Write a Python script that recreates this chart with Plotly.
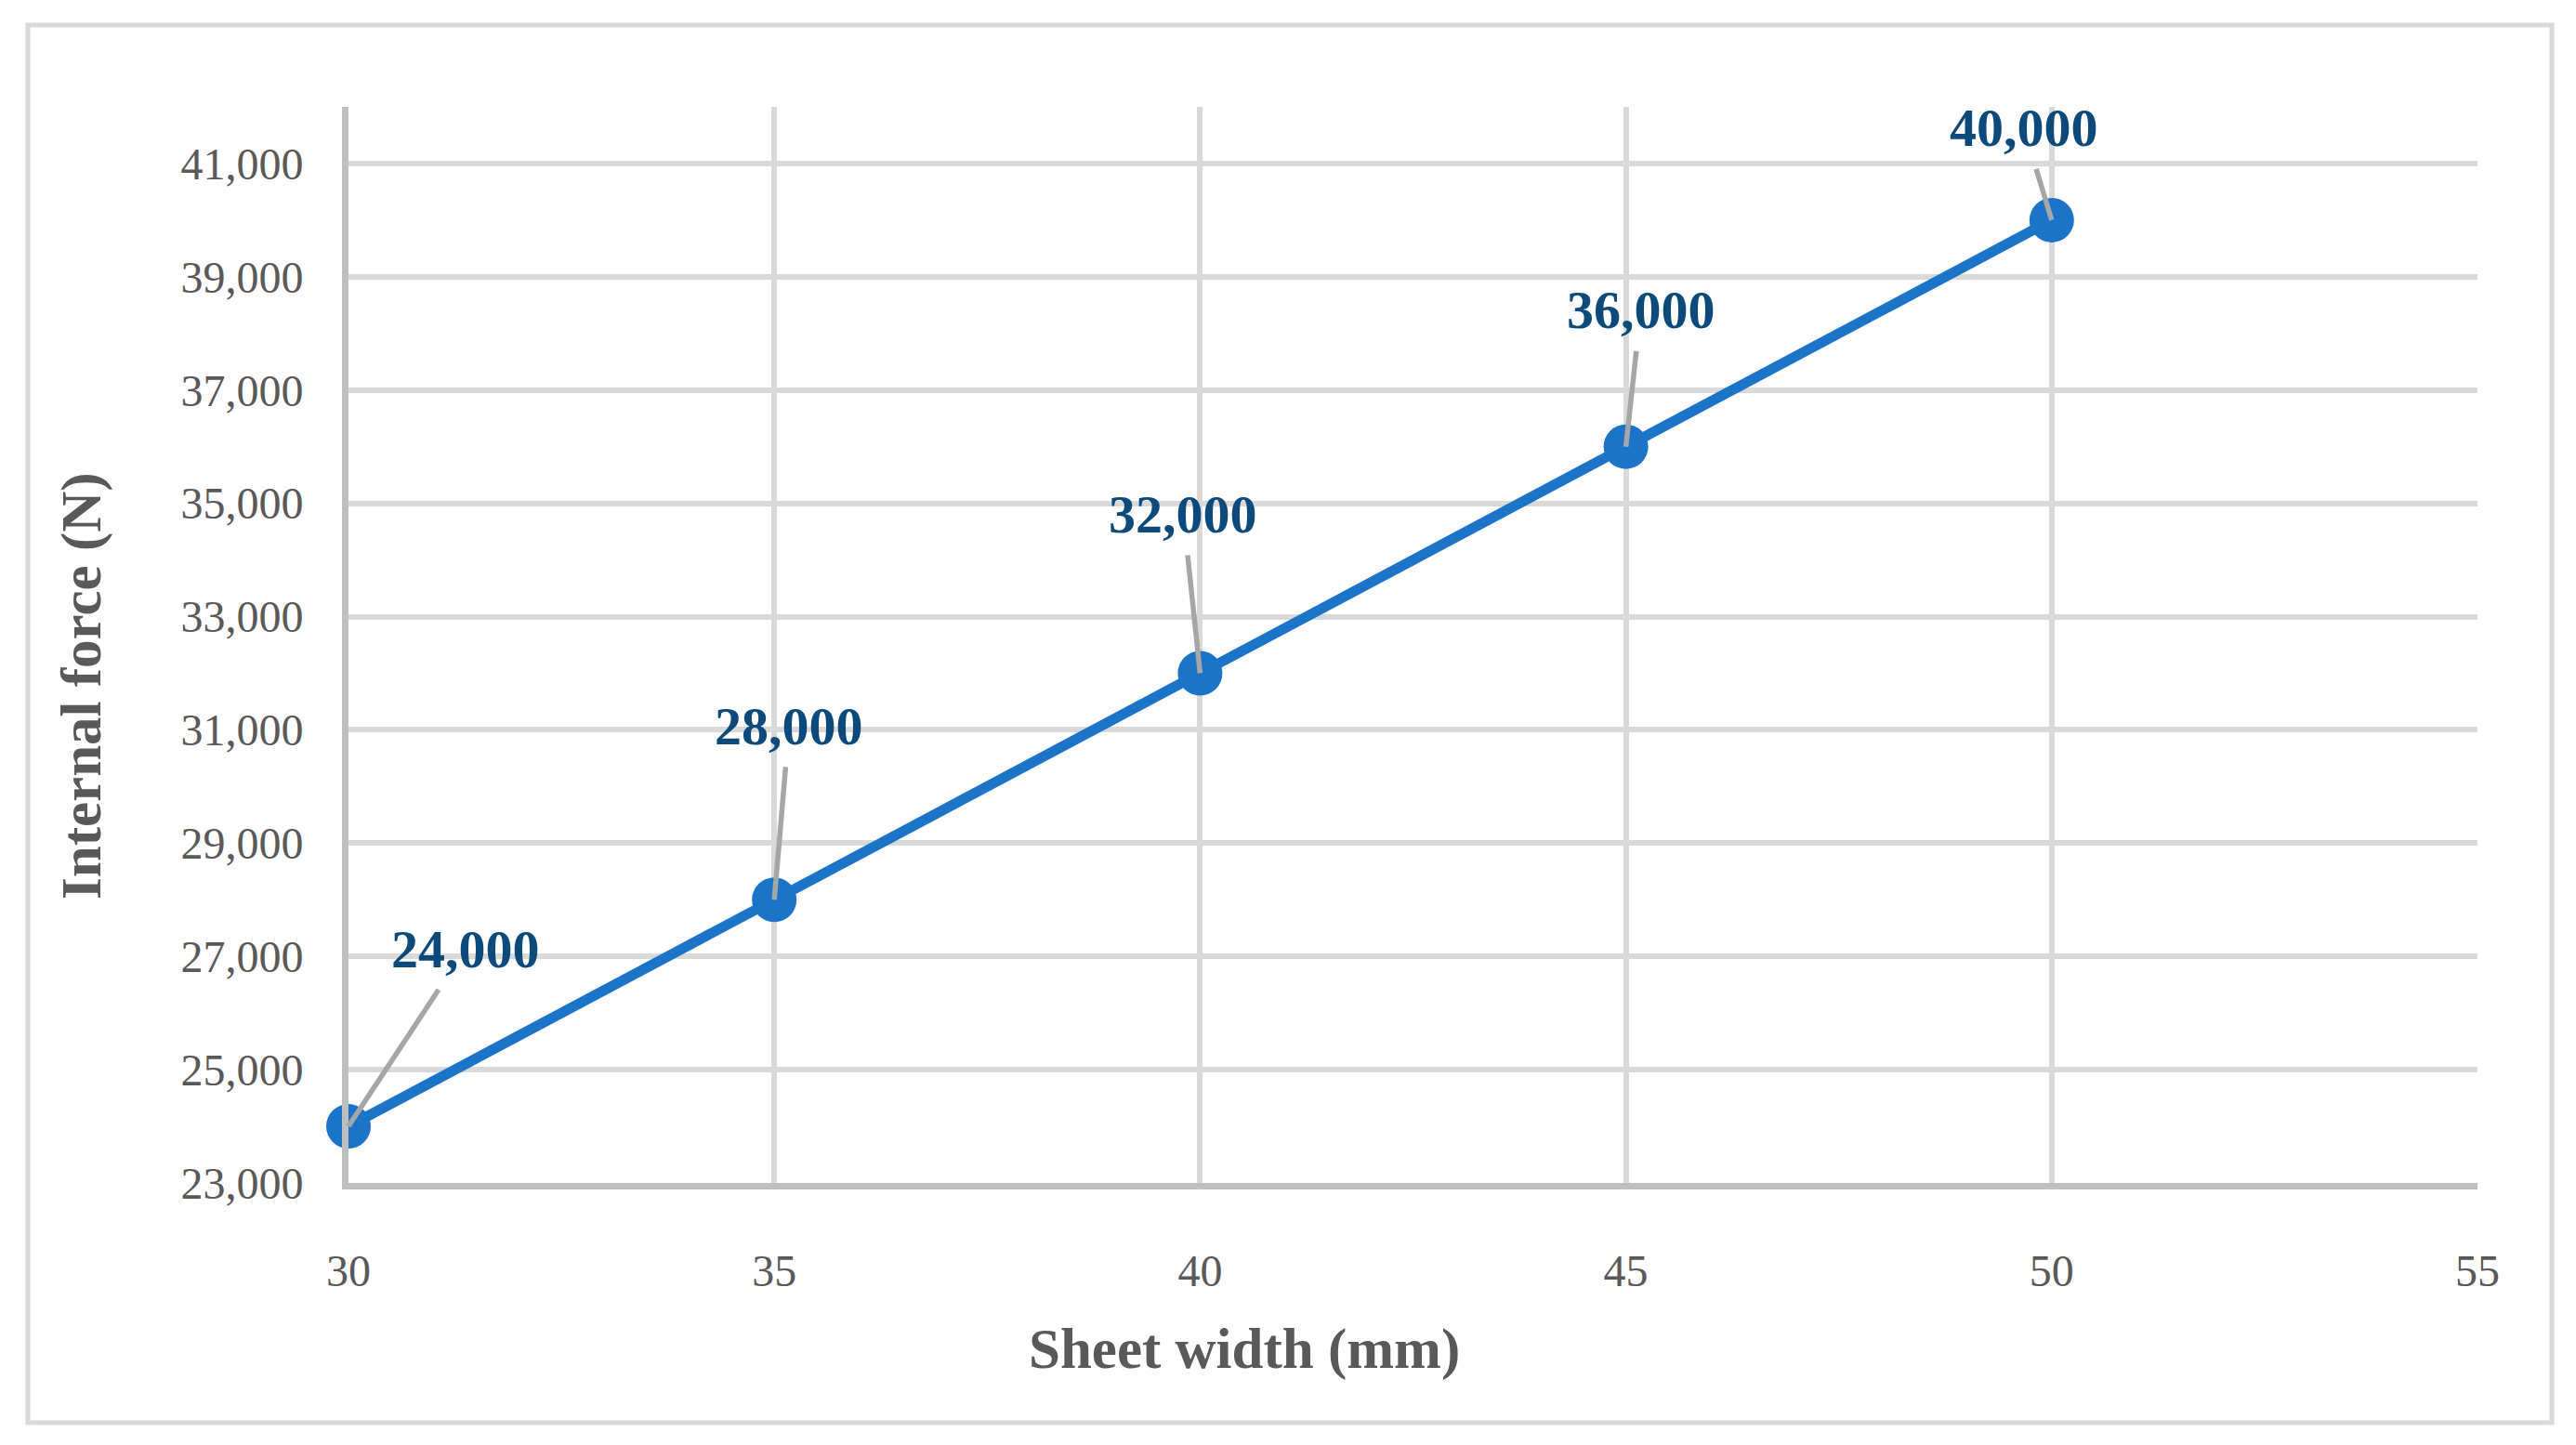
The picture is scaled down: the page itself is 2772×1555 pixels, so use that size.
import plotly.graph_objects as go

# Data
sheet_width = [30, 35, 40, 45, 50]
internal_force = [24000, 28000, 32000, 36000, 40000]
label_text = ["24,000", "28,000", "32,000", "36,000", "40,000"]
# data-label offsets (pixels, styling)
label_dx = [126, 16, -18, 16, -30]
label_dy = [-191, -187, -171, -147, -99]

y_ticks = list(range(23000, 42000, 2000))
x_ticks = [30, 35, 40, 45, 50, 55]

OFF = 8  # page body margin
W, H = 2772 - OFF, 1555 - OFF
L, T = 375 - OFF, 115 - OFF
R, B = 106, 282
pw, ph = W - L - R, H - T - B

FONT = "Palatino Linotype, Book Antiqua, Palatino, Liberation Serif, serif"
GREY_TXT = "#595959"
LINE_BLUE = "#1B74C8"
LABEL_BLUE = "#0B4A7A"

fig = go.Figure()
fig.add_trace(go.Scatter(
    x=sheet_width, y=internal_force, mode="lines+markers",
    line=dict(color=LINE_BLUE, width=11),
    marker=dict(color=LINE_BLUE, size=48, line=dict(width=0)),
    cliponaxis=False, showlegend=False, hoverinfo="x+y"))

for xv, yv, t, dx, dy in zip(sheet_width, internal_force, label_text, label_dx, label_dy):
    fig.add_annotation(x=xv, y=yv, text=t, ax=dx, ay=dy,
                       showarrow=True, arrowhead=0, arrowwidth=5.5, arrowcolor="#A6A6A6",
                       standoff=0, borderpad=11,
                       font=dict(family=FONT, size=58, color=LABEL_BLUE, weight="bold"))

# helpers: screenshot pixel -> paper coords
def px2paper_x(px):
    return (px - OFF - L) / pw

def px2paper_y(py):
    return (H - B - (py - OFF)) / ph

fig.add_annotation(xref="paper", yref="paper", x=px2paper_x(1339), y=px2paper_y(1452),
                   text="<b>Sheet width (mm)</b>", showarrow=False,
                   xanchor="center", yanchor="middle",
                   font=dict(family=FONT, size=61, color=GREY_TXT))
fig.add_annotation(xref="paper", yref="paper", x=px2paper_x(88), y=px2paper_y(738),
                   text="<b>Internal force (N)</b>", showarrow=False, textangle=-90,
                   xanchor="center", yanchor="middle",
                   font=dict(family=FONT, size=61, color=GREY_TXT))

# outer chart border
fig.add_shape(type="rect", xref="paper", yref="paper",
              x0=px2paper_x(30), x1=px2paper_x(2746),
              y0=px2paper_y(1531), y1=px2paper_y(27),
              line=dict(color="#D9D9D9", width=5), fillcolor="rgba(0,0,0,0)", layer="below")

fig.update_layout(
    width=W, height=H,
    margin=dict(l=L, r=R, t=T, b=B),
    paper_bgcolor="white", plot_bgcolor="white",
    font=dict(family=FONT, color=GREY_TXT),
    xaxis=dict(range=[30, 55], tickvals=x_ticks, ticktext=[str(v) for v in x_ticks],
               showgrid=True, gridcolor="#D9D9D9", gridwidth=6,
               showline=True, linecolor="#BFBFBF", linewidth=7,
               zeroline=False, ticks="", ticklabelstandoff=46,
               tickfont=dict(family=FONT, size=48, color=GREY_TXT)),
    yaxis=dict(range=[23000, 42000], tickvals=y_ticks,
               ticktext=[f"{v:,}" for v in y_ticks],
               showgrid=True, gridcolor="#D9D9D9", gridwidth=6,
               showline=True, linecolor="#BFBFBF", linewidth=7,
               zeroline=False, ticks="", ticklabelstandoff=32,
               tickfont=dict(family=FONT, size=48, color=GREY_TXT)),
)

fig.write_html("out.html")
